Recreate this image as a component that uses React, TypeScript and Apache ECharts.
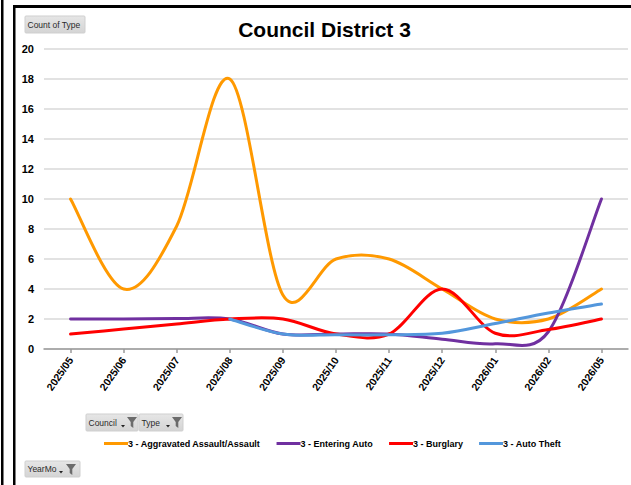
import React, { useEffect, useRef } from "react";
import * as echarts from "echarts";

const months = ["2025/05", "2025/06", "2025/07", "2025/08", "2025/09", "2025/10", "2025/11", "2025/12", "2026/01", "2026/02", "2026/05"];
const aggravated = [10, 4, 8.2, 18, 3.6, 6, 6, 4, 2, 2, 4];
const entering = [2, 2, 2.03, 2, 1, 1, 1, 0.65, 0.35, 1.15, 10];
const burglary = [1, 1.33, 1.67, 2, 2, 1, 1, 4, 1.05, 1.3, 2];
const autoTheft = [null, null, null, 2, 1, 0.95, 0.95, 1.05, 1.7, 2.4, 3];
const seriesNames = ["3 - Aggravated Assault/Assault", "3 - Entering Auto", "3 - Burglary", "3 - Auto Theft"];
const seriesColors = ["#FF9900", "#7030A0", "#FF0000", "#5397DC"];
const yTicks = [0, 2, 4, 6, 8, 10, 12, 14, 16, 18, 20];

const ARIAL = '"Liberation Sans", Arial, sans-serif';

function funnel(x: number, y: number) {
  return {
    type: "polygon",
    shape: { points: [[x, y], [x + 10, y], [x + 6.3, y + 5], [x + 6.3, y + 11], [x + 3.7, y + 9], [x + 3.7, y + 5]] },
    style: { fill: "#6b6b6b" },
  };
}
function arrow(x: number, y: number) {
  return {
    type: "polygon",
    shape: { points: [[x, y], [x + 4, y], [x + 2, y + 2.5]] },
    style: { fill: "#222" },
  };
}
function button(x: number, y: number, w: number, h: number, label: string, withIcons: boolean, arrowX = 0, funnelX = 0) {
  const els: any[] = [
    {
      type: "rect",
      shape: { x, y, width: w, height: h, r: 1 },
      style: {
        fill: new echarts.graphic.LinearGradient(0, 0, 0, 1, [
          { offset: 0, color: "#e6e6e6" },
          { offset: 1, color: "#d4d4d4" },
        ]),
        stroke: "#cfcfcf",
        lineWidth: 1,
      },
    },
    {
      type: "text",
      style: {
        text: label,
        x: x + 2.5,
        y: y + h / 2,
        fill: "#2a2a2a",
        font: `8.5px ${ARIAL}`,
        textVerticalAlign: "middle",
      },
    },
  ];
  if (withIcons) {
    els.push(arrow(arrowX, y + h - 6));
    els.push(funnel(funnelX, y + 3));
  }
  return els;
}

function capArm(ax: number, ay: number, maxLen: number) {
  const len = Math.sqrt(ax * ax + ay * ay);
  if (len > maxLen && len > 0) {
    const k = maxLen / len;
    return [ax * k, ay * k];
  }
  return [ax, ay];
}

// Spreadsheet-style smoothed line (Catmull-Rom Bezier arms, capped at half the segment length)
function makeRenderer(values: (number | null)[], color: string) {
  return (params: any, api: any) => {
    if (params.dataIndex !== 0) return null;
    const pts: number[][] = [];
    values.forEach((v, i) => {
      if (v != null) pts.push(api.coord([i, v]));
    });
    let d = `M${pts[0][0]},${pts[0][1]}`;
    for (let i = 0; i < pts.length - 1; i++) {
      const p0 = pts[i - 1] || pts[i];
      const p1 = pts[i];
      const p2 = pts[i + 1];
      const p3 = pts[i + 2] || pts[i + 1];
      const seg = Math.hypot(p2[0] - p1[0], p2[1] - p1[1]);
      const a1 = capArm((p2[0] - p0[0]) / 6, (p2[1] - p0[1]) / 6, seg / 2);
      const a2 = capArm((p3[0] - p1[0]) / 6, (p3[1] - p1[1]) / 6, seg / 2);
      d += ` C${p1[0] + a1[0]},${p1[1] + a1[1]} ${p2[0] - a2[0]},${p2[1] - a2[1]} ${p2[0]},${p2[1]}`;
    }
    return {
      type: "path",
      shape: { pathData: d },
      style: { stroke: color, lineWidth: 3, fill: "none", lineJoin: "round", lineCap: "round" },
    };
  };
}

export default function App() {
  const ref = useRef<HTMLDivElement>(null);
  useEffect(() => {
    const chart = echarts.init(ref.current!, null, { renderer: "svg" });
    const data = [aggravated, entering, burglary, autoTheft];
    chart.setOption({
      animation: false,
      backgroundColor: "#ffffff",
      grid: { left: 44, right: 3, top: 49, bottom: 136, containLabel: false },
      xAxis: {
        type: "category",
        data: months,
        boundaryGap: true,
        axisLine: { show: true, lineStyle: { color: "#9a9a9a", width: 1.5 } },
        axisTick: { show: true, alignWithLabel: true, length: 4, lineStyle: { color: "#9a9a9a", width: 1.5 } },
        axisLabel: {
          rotate: 55,
          margin: 9,
          color: "#000",
          fontFamily: ARIAL,
          fontWeight: "bold",
          fontSize: 10.5,
        },
      },
      yAxis: {
        type: "value",
        min: yTicks[0],
        max: yTicks[yTicks.length - 1],
        interval: 2,
        axisLine: { show: false },
        axisTick: { show: false },
        axisLabel: {
          margin: 10,
          color: "#000",
          fontFamily: ARIAL,
          fontWeight: "bold",
          fontSize: 11,
        },
        splitLine: { show: true, lineStyle: { color: "#d9d9d9", width: 1.5 } },
      },
      legend: {
        left: 99,
        top: 434,
        icon: "rect",
        itemWidth: 24,
        itemHeight: 3,
        itemGap: 16,
        data: seriesNames,
        textStyle: {
          color: "#000",
          fontFamily: ARIAL,
          fontWeight: "bold",
          fontSize: 9,
          padding: [0, 0, 0, -5],
        },
      },
      series: seriesNames.map((name, i) => ({
        name,
        type: "custom",
        coordinateSystem: "cartesian2d",
        data: data[i].map((v, j) => (v == null ? null : [j, v])).filter((p) => p != null),
        encode: { x: 0, y: 1 },
        color: seriesColors[i],
        itemStyle: { color: seriesColors[i] },
        renderItem: makeRenderer(data[i], seriesColors[i]),
        z: 2 + i,
      })),
      graphic: [
        { type: "rect", shape: { x: 1, y: 0, width: 2.5, height: 485 }, style: { fill: "#000" } },
        { type: "rect", shape: { x: 13, y: 5, width: 2.5, height: 480 }, style: { fill: "#000" } },
        { type: "rect", shape: { x: 13, y: 5, width: 618, height: 3 }, style: { fill: "#000" } },
        {
          type: "text",
          style: {
            text: "Council District 3",
            x: 324.5,
            y: 29.5,
            fill: "#000",
            font: `bold 21px ${ARIAL}`,
            textAlign: "center",
            textVerticalAlign: "middle",
          },
        },
        ...button(25, 16, 60, 17, "Count of Type", false),
        ...button(86, 414, 52, 17, "Council", true, 121, 127),
        ...button(139, 414, 44, 17, "Type", true, 166, 172),
        ...button(25, 461, 55, 16, "YearMo", true, 59, 66),
      ],
    });
    return () => chart.dispose();
  }, []);
  return <div ref={ref} style={{ position: "fixed", left: 0, top: 0, width: 631, height: 485 }} />;
}
